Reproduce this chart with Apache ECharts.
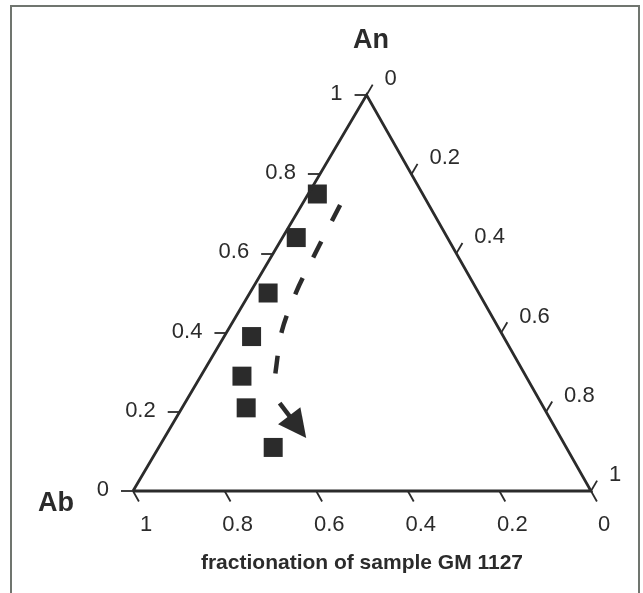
<!DOCTYPE html>
<html>
<head>
<meta charset="utf-8">
<script src="https://cdn.jsdelivr.net/npm/echarts@6/dist/echarts.min.js"></script>
<style>
  html, body { margin: 0; padding: 0; background: #fff; }
  #chart { width: 643px; height: 593px; }
</style>
</head>
<body>
<div id="chart"></div>
<script>
// Feldspar compositions (mole fractions An, Or; Ab is the remainder)
const sampleAn = [0.75, 0.64, 0.50, 0.39, 0.29, 0.21, 0.11];
const sampleOr = [0.02, 0.03, 0.04, 0.06, 0.09, 0.14, 0.25];

// Fractionation trend (dashed part) and its arrow
const trendAn = [0.722, 0.598, 0.503, 0.404, 0.303, 0.280];
const trendOr = [0.084, 0.092, 0.100, 0.119, 0.157, 0.167];
const arrowAn = [0.222, 0.162];
const arrowOr = [0.207, 0.277];

// Tick values of the three sides
const anTicks = [0, 0.2, 0.4, 0.6, 0.8, 1];
const abTicks = [1, 0.8, 0.6, 0.4, 0.2, 0];
const orTicks = [0, 0.2, 0.4, 0.6, 0.8, 1];

const vertexLabels = { top: 'An', left: 'Ab' };
const axisTitle = 'fractionation of sample GM 1127';

// ---- layout ----
const GRID = { left: 133, top: 95, width: 458, height: 396 };
const APEX_X = 0.51;          // horizontal position of the An corner
const TICK = 12;              // tick length in px
const INK = '#2b2b2b';
const FONT = '"Liberation Sans", Arial, Helvetica, sans-serif';

// ternary (An, Or) -> cartesian data coordinates
function toXY(an, or) { return [or + an * APEX_X, an]; }
// px offset -> data offset
function pxToData(dx, dy) { return [dx / GRID.width, -dy / GRID.height]; }

const rightDir = (function () {
  const vx = (1 - APEX_X) * GRID.width, vy = GRID.height;
  const n = Math.hypot(vx, vy); return [vx / n, vy / n];
})();
const leftDir = (function () {
  const vx = APEX_X * GRID.width, vy = -GRID.height;
  const n = Math.hypot(vx, vy); return [vx / n, vy / n];
})();

function seg(p, dpx) {
  const d = pxToData(dpx[0], dpx[1]);
  return [p, [p[0] + d[0], p[1] + d[1]]];
}

const tickLines = [];
const leftLabelPts = [], bottomLabelPts = [], rightLabelPts = [];

anTicks.forEach(v => {
  const p = toXY(v, 0);
  tickLines.push({ coords: seg(p, [-TICK, 0]) });
  leftLabelPts.push({ value: p, name: String(v) });
});
abTicks.forEach(v => {
  const p = toXY(0, 1 - v);
  tickLines.push({ coords: seg(p, [rightDir[0] * TICK, rightDir[1] * TICK]) });
  bottomLabelPts.push({ value: p, name: String(v) });
});
orTicks.forEach(v => {
  const p = toXY(1 - v, v);
  tickLines.push({ coords: seg(p, [leftDir[0] * TICK, leftDir[1] * TICK]) });
  rightLabelPts.push({ value: p, name: String(v) });
});

const triangle = [toXY(0, 0), toXY(0, 1), toXY(1, 0), toXY(0, 0)];
const samples = sampleAn.map((a, i) => toXY(a, sampleOr[i]));
const trend = trendAn.map((a, i) => toXY(a, trendOr[i]));
const arrow = [toXY(arrowAn[0], arrowOr[0]), toXY(arrowAn[1], arrowOr[1])];

function labelSeries(data, pos, align, vAlign) {
  return {
    type: 'scatter', data: data, symbolSize: 0, silent: true, clip: false,
    itemStyle: { opacity: 1 },
    label: {
      show: true, position: pos, align: align, verticalAlign: vAlign,
      formatter: p => p.name, color: INK, fontSize: 22, fontFamily: FONT
    }
  };
}

const chart = echarts.init(document.getElementById('chart'), null, { renderer: 'canvas' });
chart.setOption({
  backgroundColor: '#ffffff',
  animation: false,
  grid: { left: GRID.left, top: GRID.top, width: GRID.width, height: GRID.height },
  xAxis: { type: 'value', min: 0, max: 1, show: false },
  yAxis: { type: 'value', min: 0, max: 1, show: false },
  graphic: [
    { type: 'rect', shape: { x: 11, y: 6, width: 628, height: 620 },
      style: { fill: 'none', stroke: '#70756f', lineWidth: 2 }, silent: true },
    { type: 'text', x: 371, y: 41,
      style: { text: vertexLabels.top, fill: INK, font: 'bold 27px ' + FONT, align: 'center', verticalAlign: 'middle' } },
    { type: 'text', x: 56, y: 504,
      style: { text: vertexLabels.left, fill: INK, font: 'bold 27px ' + FONT, align: 'center', verticalAlign: 'middle' } },
    { type: 'text', x: 362, y: 563,
      style: { text: axisTitle, fill: INK, font: 'bold 21px ' + FONT, align: 'center', verticalAlign: 'middle' } }
  ],
  series: [
    { type: 'line', data: triangle, symbol: 'none', clip: false, silent: true,
      lineStyle: { color: INK, width: 2.8, join: 'miter' } },
    { type: 'lines', coordinateSystem: 'cartesian2d', data: tickLines, clip: false, silent: true,
      lineStyle: { color: INK, width: 1.8, opacity: 1 } },
    labelSeries(leftLabelPts, [-24, -1], 'right', 'middle'),
    labelSeries(bottomLabelPts, [13, 34], 'center', 'middle'),
    labelSeries(rightLabelPts, [18, -16], 'left', 'middle'),
    { type: 'line', data: trend, smooth: 0.3, symbol: 'none', clip: false, silent: true,
      lineStyle: { color: INK, width: 4.5, type: [18, 23], cap: 'butt' } },
    { type: 'lines', coordinateSystem: 'cartesian2d', clip: false, silent: true,
      data: [{ coords: arrow }],
      symbol: ['none', 'triangle'], symbolSize: [23, 28],
      lineStyle: { color: INK, width: 4.5, opacity: 1 }, itemStyle: { color: INK } },
    { type: 'scatter', data: samples, symbol: 'rect', symbolSize: 19, clip: false,
      itemStyle: { color: '#2b2b2b', opacity: 1 } }
  ]
});
</script>
</body>
</html>
